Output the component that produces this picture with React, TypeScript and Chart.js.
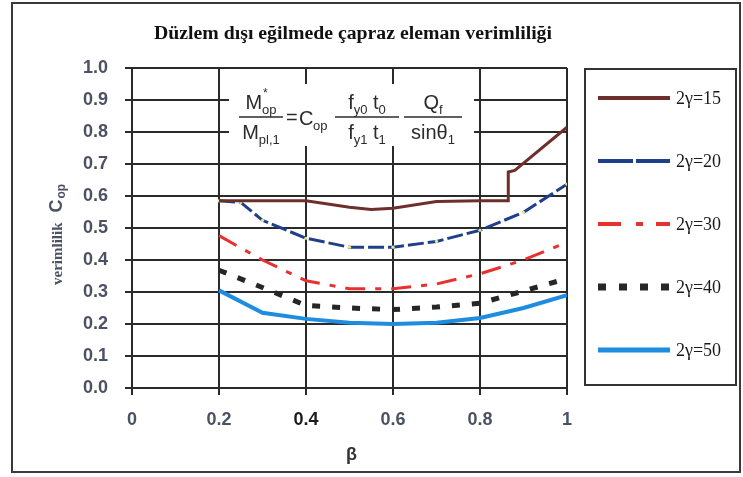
import React, { useEffect, useRef } from "react";
import { Chart, registerables } from "chart.js";
Chart.register(...registerables);

const titleText = "Düzlem dışı eğilmede çapraz eleman verimliliği";
const xTitle = "β";
const yTitleWord = "verimlilik";
const yTitleSym = "C";
const yTitleSub = "op";
const seriesLabels = ["2γ=15", "2γ=20", "2γ=30", "2γ=40", "2γ=50"];

const beta15 = [0.2, 0.3, 0.4, 0.5, 0.55, 0.6, 0.7, 0.8, 0.865, 0.865, 0.88, 1.0];
const c15 = [0.585, 0.585, 0.585, 0.565, 0.558, 0.562, 0.583, 0.585, 0.585, 0.675, 0.68, 0.815];
const beta20 = [0.2, 0.25, 0.3, 0.4, 0.5, 0.6, 0.7, 0.8, 0.9, 1.0];
const c20 = [0.585, 0.58, 0.524, 0.468, 0.44, 0.44, 0.458, 0.493, 0.549, 0.637];
const beta = [0.2, 0.3, 0.4, 0.5, 0.6, 0.7, 0.8, 0.9, 1.0];
const c30 = [0.476, 0.4, 0.335, 0.31, 0.31, 0.325, 0.357, 0.4, 0.455];
const c40 = [0.368, 0.314, 0.258, 0.25, 0.245, 0.253, 0.265, 0.303, 0.342];
const c50 = [0.305, 0.235, 0.216, 0.204, 0.2, 0.204, 0.219, 0.25, 0.29];

const SANS = "'Liberation Sans', Arial, sans-serif";
const SERIF = "'Liberation Serif', 'Times New Roman', serif";
const TICK_COLOR = "#4a5263";
const GRID_COLOR = "#2a2a2a";

const pts = (xs: number[], ys: number[]) => xs.map((x, i) => ({ x, y: ys[i] }));

type Run = [string, boolean];

function drawRun(ctx: CanvasRenderingContext2D, run: Run[], cx: number, base: number, size: number, sub: number) {
  const widths = run.map(([t, s]) => {
    ctx.font = `${s ? sub : size}px ${SANS}`;
    return ctx.measureText(t).width;
  });
  const total = widths.reduce((a, b) => a + b, 0);
  let x = cx - total / 2;
  const starts: number[] = [];
  run.forEach(([t, s], i) => {
    ctx.font = `${s ? sub : size}px ${SANS}`;
    starts.push(x);
    ctx.fillText(t, x, s ? base + 5 : base);
    x += widths[i];
  });
  return starts;
}

const decor = {
  id: "decor",
  beforeDraw(chart: any) {
    const ctx = chart.ctx as CanvasRenderingContext2D;
    ctx.save();
    ctx.fillStyle = "#fff";
    ctx.fillRect(0, 0, chart.width, chart.height);
    ctx.strokeStyle = "#3a3a3a";
    ctx.lineWidth = 2;
    ctx.strokeRect(12, 3, 728, 469);
    ctx.restore();
  },
  beforeDatasetsDraw(chart: any) {
    const ctx = chart.ctx as CanvasRenderingContext2D;
    const { left: L, top: T } = chart.chartArea;
    ctx.save();
    ctx.fillStyle = "#fff";
    ctx.fillRect(L + 97, T + 16, 245, 62);
    ctx.fillStyle = "#2b2b2b";
    ctx.strokeStyle = "#2b2b2b";
    ctx.textBaseline = "alphabetic";
    ctx.textAlign = "left";
    const barY = T + 49;
    const size = 20, sub = 13;
    const bar = (cx: number, w: number) => {
      ctx.lineWidth = 1.5;
      ctx.beginPath();
      ctx.moveTo(cx - w / 2, barY);
      ctx.lineTo(cx + w / 2, barY);
      ctx.stroke();
    };
    const c1 = L + 129;
    const s1 = drawRun(ctx, [["M", false], ["op", true]], c1, barY - 8, size, sub);
    ctx.font = `12px ${SANS}`;
    ctx.fillText("*", s1[1] + 1, barY - 20);
    bar(c1, 44);
    drawRun(ctx, [["M", false], ["pl,1", true]], c1, barY + 22, size, sub);
    ctx.font = `${size}px ${SANS}`;
    ctx.fillText("=", L + 154, barY + 7);
    ctx.fillText("C", L + 167, barY + 8);
    ctx.font = `${sub}px ${SANS}`;
    ctx.fillText("op", L + 181, barY + 13);
    const c2 = L + 235;
    drawRun(ctx, [["f", false], ["y0", true], [" t", false], ["0", true]], c2, barY - 8, size, sub);
    bar(c2, 64);
    drawRun(ctx, [["f", false], ["y1", true], [" t", false], ["1", true]], c2, barY + 22, size, sub);
    const c3 = L + 301;
    drawRun(ctx, [["Q", false], ["f", true]], c3, barY - 8, size, sub);
    bar(c3, 58);
    drawRun(ctx, [["sinθ", false], ["1", true]], c3, barY + 22, size, sub);
    ctx.restore();
  },
  afterDraw(chart: any) {
    const ctx = chart.ctx as CanvasRenderingContext2D;
    const { left: L, right: R, top: T, bottom: B } = chart.chartArea;
    ctx.save();
    ctx.font = `bold 18px ${SERIF}`;
    ctx.fillStyle = "#111";
    ctx.textBaseline = "middle";
    ctx.textAlign = "center";
    const tw = ctx.measureText(titleText).width;
    const sx = Math.max(0.8, Math.min(1.3, 398 / tw));
    ctx.save();
    ctx.translate(353, 34);
    ctx.scale(sx, 1);
    ctx.fillText(titleText, 0, 0);
    ctx.restore();
    ctx.font = `bold 18px ${SANS}`;
    ctx.fillStyle = "#333";
    ctx.fillText(xTitle, (L + R) / 2 + 2, B + 67);
    ctx.save();
    ctx.translate(58, T + 217);
    ctx.rotate(-Math.PI / 2);
    ctx.textAlign = "left";
    ctx.textBaseline = "middle";
    ctx.fillStyle = TICK_COLOR;
    ctx.font = `bold 15px ${SERIF}`;
    ctx.fillText(yTitleWord, 0, 0);
    const w1 = ctx.measureText(yTitleWord).width;
    ctx.font = `bold 18px ${SANS}`;
    ctx.fillText(yTitleSym, w1 + 10, -1);
    const w2 = ctx.measureText(yTitleSym).width;
    ctx.font = `bold 12px ${SANS}`;
    ctx.fillText(yTitleSub, w1 + 10 + w2 + 1, 4);
    ctx.restore();
    const bx = 585, by = T + 1, bw = 151, bh = 316;
    ctx.strokeStyle = "#333";
    ctx.lineWidth = 2;
    ctx.strokeRect(bx, by, bw, bh);
    chart.data.datasets.forEach((ds: any, i: number) => {
      const y = by + 29 + i * 63;
      ctx.save();
      ctx.strokeStyle = ds.borderColor;
      ctx.lineWidth = ds.legendWidth;
      ctx.setLineDash(ds.legendDash || []);
      ctx.beginPath();
      ctx.moveTo(bx + 13, y);
      ctx.lineTo(bx + 85, y);
      ctx.stroke();
      ctx.restore();
      ctx.font = `18px ${SERIF}`;
      ctx.fillStyle = "#1a1a1a";
      ctx.textAlign = "left";
      ctx.textBaseline = "middle";
      ctx.fillText(ds.label, bx + 91, y + 1);
    });
    ctx.restore();
  },
};

export default function App() {
  const ref = useRef<HTMLCanvasElement>(null);
  useEffect(() => {
    document.body.style.margin = "0";
    const common = { pointRadius: 0, tension: 0, fill: false };
    const chart = new Chart(ref.current!, {
      type: "line",
      data: {
        datasets: [
          { ...common, label: seriesLabels[0], data: pts(beta15, c15), borderColor: "#6e2f2c", borderWidth: 3, legendWidth: 4 } as any,
          { ...common, label: seriesLabels[1], data: pts(beta20, c20), borderColor: "#1f3f8c", borderWidth: 3, borderDash: [16, 4], legendWidth: 4, legendDash: [35, 3], pointRadius: 1.6, pointBackgroundColor: "#e8ea8a", pointBorderWidth: 0 } as any,
          { ...common, label: seriesLabels[2], data: pts(beta, c30), borderColor: "#e8312f", borderWidth: 3, borderDash: [20, 10, 6, 10], legendWidth: 4, legendDash: [23, 15, 7, 13] } as any,
          { ...common, label: seriesLabels[3], data: pts(beta, c40), borderColor: "#262626", borderWidth: 5, borderDash: [8, 12], legendWidth: 7, legendDash: [8, 13] } as any,
          { ...common, label: seriesLabels[4], data: pts(beta, c50), borderColor: "#1e8de0", borderWidth: 4, legendWidth: 5 } as any,
        ],
      },
      options: {
        responsive: false,
        animation: false,
        events: [],
        layout: { padding: { left: 0, right: 176, top: 68, bottom: 0 } },
        plugins: { legend: { display: false }, title: { display: false }, tooltip: { enabled: false } },
        scales: {
          x: {
            type: "linear",
            min: 0,
            max: 1,
            afterFit: (s: any) => { s.height = 89; },
            grid: { color: GRID_COLOR, lineWidth: 2, tickLength: 7, tickColor: GRID_COLOR },
            border: { display: true, color: GRID_COLOR, width: 2 },
            ticks: {
              stepSize: 0.2,
              autoSkip: false,
              maxRotation: 0,
              padding: 14,
              font: { family: SANS, size: 18, weight: "bold" },
              color: (c: any) => (c.tick && Math.abs(c.tick.value - 0.4) < 1e-6 ? "#1a1a1a" : TICK_COLOR),
              callback: (v: any) => String(Math.round(Number(v) * 10) / 10),
            },
          },
          y: {
            type: "linear",
            min: 0,
            max: 1,
            afterFit: (s: any) => { s.width = 132; },
            grid: { color: GRID_COLOR, lineWidth: 2, tickLength: 7, tickColor: GRID_COLOR },
            border: { display: true, color: GRID_COLOR, width: 2 },
            ticks: {
              stepSize: 0.1,
              autoSkip: false,
              padding: 17,
              font: { family: SANS, size: 18, weight: "bold" },
              color: TICK_COLOR,
              callback: (v: any) => Number(v).toFixed(1),
            },
          },
        },
      },
      plugins: [decor],
    } as any);
    return () => chart.destroy();
  }, []);
  return (
    <div style={{ width: 743, height: 477, position: "relative" }}>
      <canvas ref={ref} width={743} height={477} style={{ display: "block", width: 743, height: 477 }} />
    </div>
  );
}
